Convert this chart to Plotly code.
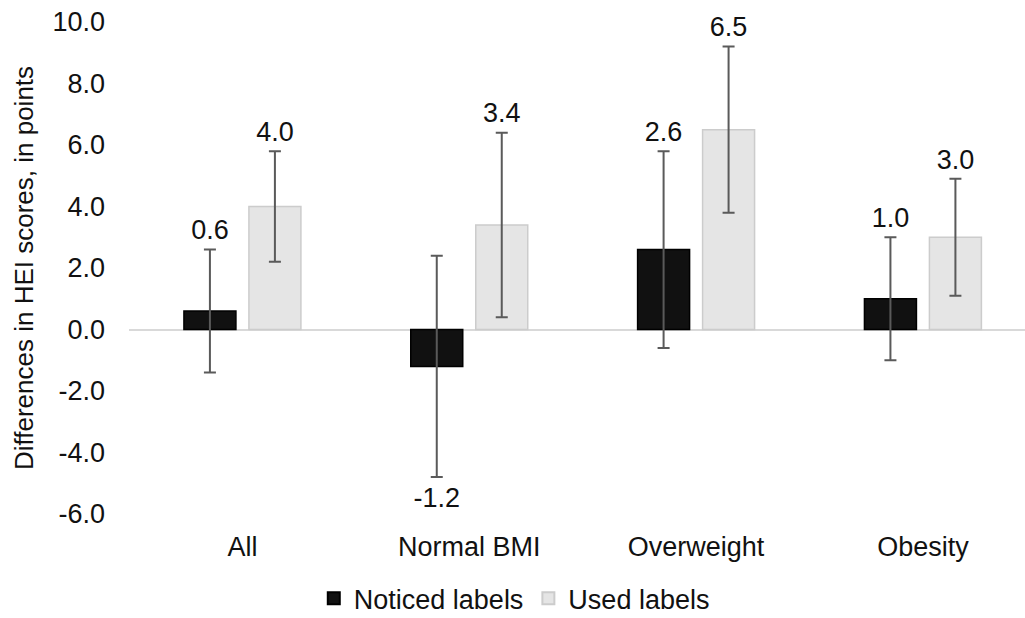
import plotly.graph_objects as go

categories = ["All", "Normal BMI", "Overweight", "Obesity"]
noticed = [0.6, -1.2, 2.6, 1.0]
noticed_err = [2.0, 3.6, 3.2, 2.0]
used = [4.0, 3.4, 6.5, 3.0]
used_err = [1.8, 3.0, 2.7, 1.9]
y_ticks = [-6, -4, -2, 0, 2, 4, 6, 8, 10]

FONT = "Liberation Sans, Arial, sans-serif"
FS = 27

fig = go.Figure()

series = [
    ("Noticed labels", noticed, noticed_err, "#111111", "#000000", "g1"),
    ("Used labels", used, used_err, "#e5e5e5", "#cccccc", "g2"),
]

for name, vals, errs, fill, line, grp in series:
    fig.add_trace(go.Bar(
        x=categories, y=vals, name=name, offsetgroup=grp,
        marker=dict(color=fill, line=dict(color=line, width=1.5)),
        error_y=dict(type="data", array=errs, visible=True,
                     color="#5a5a5a", thickness=2, width=6),
    ))

for name, vals, errs, fill, line, grp in series:
    ys = [v + e if v >= 0 else v - e for v, e in zip(vals, errs)]
    pos = ["top center" if v >= 0 else "bottom center" for v in vals]
    sizes = [4 if v >= 0 else 14 for v in vals]
    fig.add_trace(go.Scatter(
        x=categories, y=ys, offsetgroup=grp, mode="markers+text",
        marker=dict(size=sizes, color="rgba(0,0,0,0)", line=dict(width=0)),
        text=[f"{v:.1f}" for v in vals], textposition=pos,
        textfont=dict(family=FONT, size=FS, color="#111111"),
        showlegend=False, hoverinfo="skip", cliponaxis=False,
    ))

fig.update_layout(
    width=1025, height=618,
    margin=dict(l=129, r=0, t=22, b=104, autoexpand=False),
    paper_bgcolor="white", plot_bgcolor="white",
    barmode="group", bargap=0.427, bargroupgap=0.2,
    scattermode="group", scattergap=0.427,
    font=dict(family=FONT, size=FS, color="#111111"),
    showlegend=True,
    legend=dict(orientation="h", x=0.43, xanchor="center", y=-0.172, yanchor="middle",
                font=dict(family=FONT, size=FS, color="#111111"),
                itemsizing="constant", traceorder="normal", itemwidth=30,
                tracegroupgap=0),
)

fig.update_xaxes(
    type="category", range=[-0.5, 3.45], automargin=False,
    showgrid=False, showline=False, zeroline=False,
    tickfont=dict(family=FONT, size=FS, color="#111111"),
    ticks="", ticklabelstandoff=14,
)

fig.update_yaxes(
    range=[-6, 10], tickvals=y_ticks, automargin=False,
    ticktext=[f"{v:.1f}" for v in y_ticks],
    showgrid=False, showline=False,
    zeroline=True, zerolinecolor="#d9d9d9", zerolinewidth=2,
    tickfont=dict(family=FONT, size=FS, color="#111111"),
    ticks="", ticklabelstandoff=23,
    title=dict(text="Differences in HEI scores, in points",
               font=dict(family=FONT, size=26, color="#111111"), standoff=11),
)

# remove the browser's default 8px body margin so the chart sits at the page origin
fig.write_html(
    "out.html",
    config={"displayModeBar": False},
    post_script="document.body.style.margin='0';document.body.style.overflow='hidden';",
)
